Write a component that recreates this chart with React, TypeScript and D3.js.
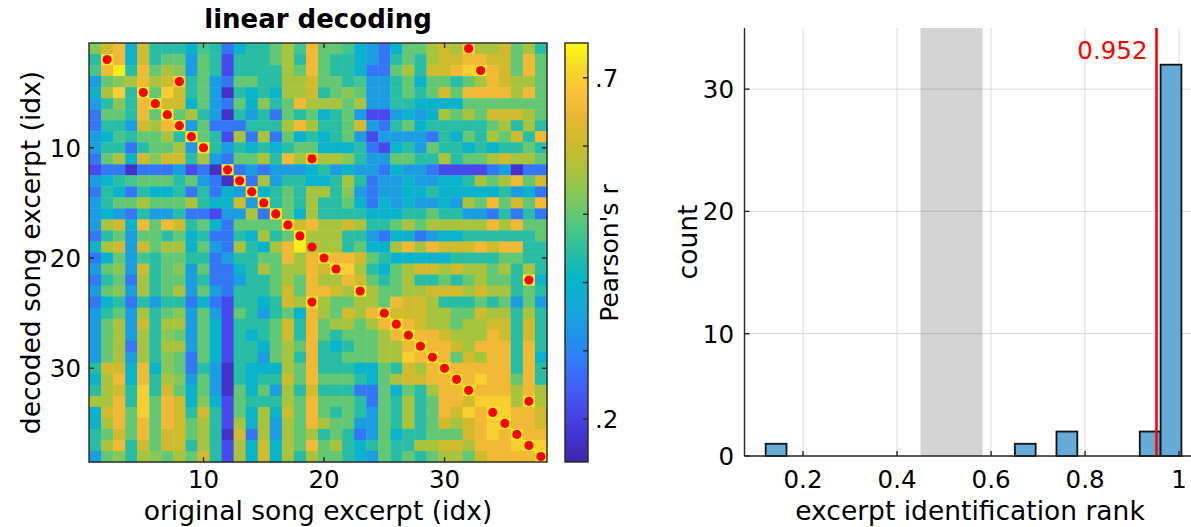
import React, { useEffect, useRef } from "react";
import * as d3 from "d3";

// ---------- DATA ----------
// Heatmap of Pearson's r (rows: decoded excerpt, cols: original excerpt), read from picture as levels
const heatRows: string[] = [
  "HDRCDTTTCSTBC" + "TTGOSRGGSCLB" + "CGGODOYOODGOT",
  "TERCDTGGLGTUT" + "TTGOTRGTTCLB" + "TGTODDRRDDGRG",
  "SRETRGOHLGTUT" + "TTTOGRGTTCBB" + "GOTDDRYERDGRG",
  "LGHORODYTGLBG" + "GTTOODGGTSLL" + "TGCGGTGORDOOG",
  "COYTEGYDTGLVT" + "CTCOODTGHGLL" + "TGTGDGRRRRORG",
  "LTHTREDDCGLBG" + "CHTGROOOGOLL" + "TTCCCCGGGGGGG",
  "BGGTRGEGOTLVT" + "LTBGTGCTGLUU" + "LCLCOGOGDDDOG",
  "BTTLDORELGBBB" + "TTTOROTTGDLB" + "TGCTTTTTGOTOT",
  "LCSTGGOTEGTUO" + "BOBGCTCTGLUL" + "LLLBTCGTOGDTR",
  "LTTBTGGOLETLT" + "CTCTGGCCCTBU" + "CTLGTTCTCTTGT",
  "BGOCDHDDTOLBG" + "GOTROYOOHTLL" + "GGTTOTGGODOOG",
  "UBBVBBBLUBVEB" + "LBLLLCTLCLLB" + "CLLBUUUUBLVBB",
  "LCTSGGGTGLBVE" + "BOLTTCCTOTBL" + "LCLLCCTOGORGD",
  "BTCBTCCTBTBCL" + "ECTGTOOTHLBL" + "LCCTCCCCCTLCB",
  "LTGGOGGGOTCCD" + "LETGTOTTGCBC" + "LCLLCLOGRGDGR",
  "LCLBTLLTBBULL" + "OBEGCOTTTTCC" + "CTTGTTLLBTBTB",
  "LODCRGRDTGCBG" + "GGGEDROODOTT" + "GOGOOOOORORGG",
  "BTGLGGTGCTBBT" + "COTGEOOOTTLB" + "CCBLCCTTTTTTG",
  "CODLDGOOCGLBO" + "TCOREOOOTGCC" + "ORORDDDRDRRTT",
  "BCGLSTGGTTBLT" + "TGGRORERRDGT" + "CCCCCTTTTGGTT",
  "LGHLDTGHLGBBC" + "TOGOORDEYOTC" + "GODDODOOGOTOT",
  "BTGBOTGGLTBBL" + "TTGOGROORDGT" + "GOTTGTGOGGTEC",
  "LGHLOTGOLGLBT" + "TTGDGRRDOEOG" + "GOODDDODOOTGT",
  "BCTBTLTTBCBUT" + "TCTDOEOGGOOG" + "RDDOTTTGTGLGL",
  "LTGLOTGHLGLUG" + "TLTGCROGDORE" + "DDDOOGGDOOTOT",
  "LGOLDTOOLGCUT" + "TTGDTRGOOGOR" + "ERDOOGOODDTDT",
  "LGOLOTHGLGCUT" + "CTGDTRGTGGGO" + "RERRDOOORDTDT",
  "LGOBOTOOLGCUT" + "TCGOGRTCTGGO" + "ORERRDORRRTRT",
  "LGOLOTHGBGCUT" + "TLGOTRTTGGGO" + "OYRERGDORRTRC",
  "TDDCRCHGBTLVT" + "CCCOGRTTTCCG" + "TDORERRRRRTRT",
  "CORCRTOHLGLVT" + "CTTDGRGGGTCG" + "ODDRRERYRRGRT",
  "TODTYTDGCGLVG" + "CGLOTDTTTBBG" + "CGTORRERRRORO",
  "OORTYGRDCHCUG" + "TTTOGRGGGTBG" + "TOTGRRDYYYOEO",
  "CDRGYGRDTDTUG" + "COCDGRGTGTLG" + "TOTGRDYREYRRD",
  "CORGRGRDGOTUO" + "COLOGROGGLLG" + "TOTGDODRYERRD",
  "TGDGRGDDGOTVD" + "BOLOGOTGTBLG" + "CTTGGGDRYRERR",
  "TORTDGDDTOTUO" + "CDCOGRGOTCTG" + "TTOODDORRRYEY",
  "LGHTOHGOGDTUO" + "CDCOTOGGTCLG" + "TGTGOOGDRRRRE",
];
const levelChars: string[] = ["V", "U", "B", "L", "C", "T", "S", "G", "H", "O", "D", "R", "Y", "E"];
const levelValues: number[] = [0.17, 0.215, 0.28, 0.34, 0.395, 0.443, 0.472, 0.5, 0.53, 0.562, 0.608, 0.655, 0.698, 0.735];

// best-matching original excerpt (column) for each decoded excerpt (row)
const bestMatchCol: number[] = [
  32, 2, 33, 8, 5, 6, 7, 8, 9, 10, 19, 12, 13, 14, 15, 16, 17, 18, 19, 20,
  21, 37, 23, 19, 25, 26, 27, 28, 29, 30, 31, 32, 37, 34, 35, 36, 37, 38,
];

const heatTicks: number[] = [10, 20, 30];
const colorRange: number[] = [0.137, 0.751];
const cbarTicks: number[] = [0.2, 0.3, 0.4, 0.5, 0.6, 0.7];
const cbarTickLabels: string[] = [".2", "", "", "", "", ".7"];

// parula colormap anchors
const parulaStops: number[] = [0, 0.063, 0.125, 0.188, 0.25, 0.313, 0.375, 0.438, 0.5, 0.563, 0.625, 0.688, 0.75, 0.813, 0.875, 0.938, 1];
const parulaColors: string[] = [
  "#3e26a8", "#4434cf", "#4748eb", "#4062fb", "#2f7ff4", "#1f97e5", "#13aad6", "#06b6c6",
  "#2abda4", "#4ec686", "#7dc85f", "#a6c33f", "#c8bc2e", "#e6b831", "#fcbd3c", "#f5d92a", "#f9fb0e",
];

// histogram of identification rank
const histBinLo: number[] = [0.1206, 0.6506, 0.7392, 0.9164, 0.9607];
const histBinHi: number[] = [0.1649, 0.6949, 0.7835, 0.9607, 1.005];
const histCounts: number[] = [1, 1, 2, 2, 32];
const histXTicks: number[] = [0.2, 0.4, 0.6, 0.8, 1];
const histXTickLabels: string[] = ["0.2", "0.4", "0.6", "0.8", "1"];
const histYTicks: number[] = [0, 10, 20, 30];
const thresholdRank = 0.952;
const chanceBand: number[] = [0.45, 0.582];

// ---------- COMPONENT ----------
const FONT = "DejaVu Sans, Verdana, sans-serif";
const AX = "#262626";

export default function App() {
  const ref = useRef<SVGSVGElement | null>(null);

  useEffect(() => {
    const svg = d3.select(ref.current);
    svg.selectAll("*").remove();

    const N = heatRows.length;
    const values: number[][] = heatRows.map((row) =>
      row.split("").map((ch) => levelValues[levelChars.indexOf(ch)])
    );

    const tScale = d3.scaleLinear().domain(parulaStops).range(parulaColors as any).interpolate(d3.interpolateRgb as any);
    const color = (v: number) => tScale((v - colorRange[0]) / (colorRange[1] - colorRange[0])) as unknown as string;

    // ---------- heatmap ----------
    const hx = d3.scaleLinear().domain([0.5, N + 0.5]).range([89, 547]);
    const hy = d3.scaleLinear().domain([0.5, N + 0.5]).range([43, 462]);

    const cells: { r: number; c: number; v: number }[] = [];
    values.forEach((row, i) => row.forEach((v, j) => cells.push({ r: i + 1, c: j + 1, v })));

    const gH = svg.append("g");
    gH.selectAll("rect.cell")
      .data(cells)
      .join("rect")
      .attr("class", "cell")
      .attr("x", (d) => hx(d.c - 0.5))
      .attr("y", (d) => hy(d.r - 0.5))
      .attr("width", hx(1.5) - hx(0.5) + 0.4)
      .attr("height", hy(1.5) - hy(0.5) + 0.4)
      .attr("fill", (d) => color(d.v));

    gH.selectAll("circle.best")
      .data(bestMatchCol.map((c, i) => ({ r: i + 1, c })))
      .join("circle")
      .attr("cx", (d) => hx(d.c))
      .attr("cy", (d) => hy(d.r))
      .attr("r", 4.6)
      .attr("fill", "#ff0000");

    gH.append("rect")
      .attr("x", hx(0.5)).attr("y", hy(0.5))
      .attr("width", hx(N + 0.5) - hx(0.5)).attr("height", hy(N + 0.5) - hy(0.5))
      .attr("fill", "none").attr("stroke", AX).attr("stroke-width", 1.4);

    heatTicks.forEach((t) => {
      const x = hx(t), y = hy(t);
      const tl = 5;
      [[x, 462, x, 462 - tl], [x, 43, x, 43 + tl], [89, y, 89 + tl, y], [547, y, 547 - tl, y]].forEach((p) =>
        gH.append("line").attr("x1", p[0]).attr("y1", p[1]).attr("x2", p[2]).attr("y2", p[3])
          .attr("stroke", AX).attr("stroke-width", 1.4)
      );
      gH.append("text").attr("x", x).attr("y", 488).attr("text-anchor", "middle")
        .attr("font-size", 24.5).attr("font-family", FONT).attr("fill", "#000").text(String(t));
      gH.append("text").attr("x", 81).attr("y", y + 9).attr("text-anchor", "end")
        .attr("font-size", 24.5).attr("font-family", FONT).attr("fill", "#000").text(String(t));
    });

    gH.append("text").attr("x", 318).attr("y", 27.5).attr("text-anchor", "middle")
      .attr("font-size", 26).attr("font-weight", "bold").attr("font-family", FONT).text("linear decoding");
    gH.append("text").attr("x", 318).attr("y", 520).attr("text-anchor", "middle")
      .attr("font-size", 26.5).attr("font-family", FONT).text("original song excerpt (idx)");
    gH.append("text").attr("transform", `translate(40,${(43 + 462) / 2}) rotate(-90)`)
      .attr("text-anchor", "middle").attr("font-size", 26.5).attr("font-family", FONT)
      .text("decoded song excerpt (idx)");

    // ---------- colorbar ----------
    const cbX0 = 565, cbX1 = 588;
    const cy = d3.scaleLinear().domain(colorRange).range([462, 43]);
    const defs = svg.append("defs");
    const grad = defs.append("linearGradient").attr("id", "parula").attr("x1", 0).attr("y1", 1).attr("x2", 0).attr("y2", 0);
    parulaStops.forEach((s, i) => grad.append("stop").attr("offset", s).attr("stop-color", parulaColors[i]));
    svg.append("rect").attr("x", cbX0).attr("y", 43).attr("width", cbX1 - cbX0).attr("height", 419)
      .attr("fill", "url(#parula)").attr("stroke", AX).attr("stroke-width", 1.4);
    cbarTicks.forEach((t, i) => {
      svg.append("line").attr("x1", cbX1).attr("x2", cbX1 - 5).attr("y1", cy(t)).attr("y2", cy(t))
        .attr("stroke", AX).attr("stroke-width", 1.4);
      if (cbarTickLabels[i])
        svg.append("text").attr("x", 595).attr("y", cy(t) + 9).attr("font-size", 24.5)
          .attr("font-family", FONT).text(cbarTickLabels[i]);
    });
    svg.append("text").attr("transform", `translate(618,253) rotate(-90)`).attr("text-anchor", "middle")
      .attr("font-size", 25).attr("font-family", FONT).text("Pearson's r");

    // ---------- histogram ----------
    const x = d3.scaleLinear().domain([0.0755, 1.036]).range([744.5, 1196]);
    const y = d3.scaleLinear().domain([0, 35]).range([456, 28]);
    const gR = svg.append("g");

    gR.append("rect").attr("x", x(chanceBand[0])).attr("y", y(35))
      .attr("width", x(chanceBand[1]) - x(chanceBand[0])).attr("height", y(0) - y(35)).attr("fill", "#d4d4d4");

    histXTicks.forEach((t) =>
      gR.append("line").attr("x1", x(t)).attr("x2", x(t)).attr("y1", y(0)).attr("y2", y(35))
        .attr("stroke", AX).attr("stroke-opacity", 0.15).attr("stroke-width", 1.2)
    );
    histYTicks.forEach((t) =>
      gR.append("line").attr("x1", x(0.0755)).attr("x2", x(1.036)).attr("y1", y(t)).attr("y2", y(t))
        .attr("stroke", AX).attr("stroke-opacity", 0.15).attr("stroke-width", 1.2)
    );

    gR.selectAll("rect.bar")
      .data(histCounts.map((c, i) => ({ lo: histBinLo[i], hi: histBinHi[i], c })))
      .join("rect")
      .attr("class", "bar")
      .attr("x", (d) => x(d.lo)).attr("y", (d) => y(d.c))
      .attr("width", (d) => x(d.hi) - x(d.lo)).attr("height", (d) => y(0) - y(d.c))
      .attr("fill", "#66aad7").attr("stroke", "#111").attr("stroke-width", 1.8);

    gR.append("line").attr("x1", x(thresholdRank)).attr("x2", x(thresholdRank)).attr("y1", y(35)).attr("y2", y(0))
      .attr("stroke", "#ff0000").attr("stroke-width", 2.6);
    gR.append("text").attr("x", x(thresholdRank) - 9).attr("y", 59).attr("text-anchor", "end")
      .attr("font-size", 24.5).attr("font-family", FONT).attr("fill", "#ff0000").text(String(thresholdRank));

    gR.append("line").attr("x1", x(0.0755)).attr("x2", x(0.0755)).attr("y1", y(35)).attr("y2", y(0))
      .attr("stroke", AX).attr("stroke-width", 1.4);
    gR.append("line").attr("x1", x(0.0755)).attr("x2", x(1.036)).attr("y1", y(0)).attr("y2", y(0))
      .attr("stroke", AX).attr("stroke-width", 1.4);

    histXTicks.forEach((t, i) => {
      gR.append("line").attr("x1", x(t)).attr("x2", x(t)).attr("y1", y(0)).attr("y2", y(0) - 5)
        .attr("stroke", AX).attr("stroke-width", 1.4);
      gR.append("text").attr("x", x(t)).attr("y", 488).attr("text-anchor", "middle")
        .attr("font-size", 24.5).attr("font-family", FONT).text(histXTickLabels[i]);
    });
    histYTicks.forEach((t) => {
      gR.append("line").attr("x1", x(0.0755)).attr("x2", x(0.0755) + 5).attr("y1", y(t)).attr("y2", y(t))
        .attr("stroke", AX).attr("stroke-width", 1.4);
      gR.append("text").attr("x", 734).attr("y", y(t) + 9).attr("text-anchor", "end")
        .attr("font-size", 24.5).attr("font-family", FONT).text(String(t));
    });

    gR.append("text").attr("x", 970).attr("y", 520).attr("text-anchor", "middle")
      .attr("font-size", 26.5).attr("font-family", FONT).text("excerpt identification rank");
    gR.append("text").attr("transform", `translate(697,${(y(0) + y(35)) / 2}) rotate(-90)`)
      .attr("text-anchor", "middle").attr("font-size", 26.5).attr("font-family", FONT).text("count");
  }, []);

  return (
    <svg
      ref={ref}
      width={1191}
      height={527}
      style={{ position: "absolute", left: 0, top: 0, background: "#fff" }}
    />
  );
}
